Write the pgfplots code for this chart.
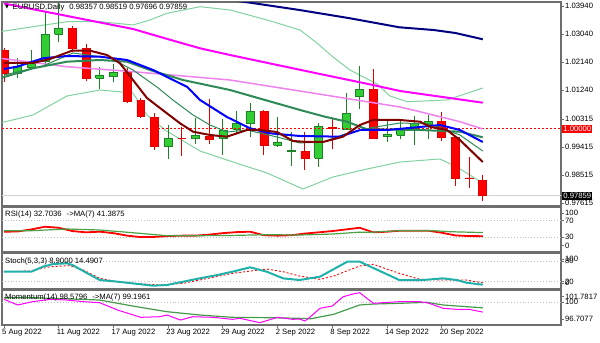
\documentclass[border=0pt]{standalone}
\usepackage{fontspec}
\setmainfont{Liberation Sans}
\newfontfamily\dejavu{DejaVu Sans}
\usepackage{pgfplots}
\pgfplotsset{compat=1.18}
\definecolor{bullfill}{RGB}{50,205,50}
\definecolor{bulledge}{RGB}{30,130,40}
\definecolor{bearfill}{RGB}{255,0,0}
\definecolor{bearedge}{RGB}{225,0,0}
\definecolor{mtnavy}{RGB}{0,0,128}
\definecolor{mtmag}{RGB}{255,0,255}
\definecolor{mtpink}{RGB}{238,130,238}
\definecolor{mtblue}{RGB}{0,0,255}
\definecolor{mtbrown}{RGB}{128,0,0}
\definecolor{mtgreen}{RGB}{46,139,87}
\definecolor{mtbb}{RGB}{130,210,160}
\definecolor{mtteal}{RGB}{32,178,170}
\definecolor{mtframe}{RGB}{110,110,110}
\definecolor{mtdot}{RGB}{190,190,190}
\newcommand\lbl{\fontsize{7.7bp}{9bp}\selectfont}
% candle: index, open, high, low, close, kind (bull/bear)
\newcommand\candle[6]{%
  \pgfmathsetmacro\xl{#1-0.29}\pgfmathsetmacro\xr{#1+0.29}%
  \edef\doit{\noexpand\addplot[draw=#6edge, line width=0.9bp] coordinates {(#1,#4)(#1,#3)};%
    \noexpand\addplot[draw=#6edge, fill=#6fill, line width=0.6bp] coordinates {(\xl,#2)(\xr,#2)(\xr,#5)(\xl,#5)(\xl,#2)};}%
  \doit}
\newcommand\bull[5]{\candle{#1}{#2}{#3}{#4}{#5}{bull}}
\newcommand\bear[5]{\candle{#1}{#2}{#3}{#4}{#5}{bear}}
\pgfplotsset{mt/.style={scale only axis, width=559bp, xmin=-0.146, xmax=40.72, anchor=north west,
  axis line style={draw=mtframe, line width=1.2bp}, xtick=\empty, ytick pos=right, yticklabel pos=right,
  tick align=outside, major tick length=3bp, major tick style={draw=mtframe, line width=0.8bp},
  yticklabel style={font=\lbl, anchor=west, inner sep=0.5bp, xshift=0.5bp}, clip mode=individual}}
\begin{document}
\begin{tikzpicture}
\useasboundingbox (0,0) rectangle (600bp,-343bp);
% ---------------- main price window
\begin{axis}[mt, at={(2bp,-2bp)}, height=204bp, ymin=0.97528, ymax=1.04068,
  ytick={0.97615,0.98515,0.99415,1.00315,1.01240,1.02140,1.03040,1.03940},
  yticklabels={0.97615,0.98515,0.99415,1.00315,1.01240,1.02140,1.03040,1.03940}]
% Bollinger bands
\addplot[mtbb, line width=1bp] coordinates {(-0.29,1.031161)(2.12,1.032764)(4.6,1.034367)(7.02,1.034367)(9.43,1.033309)(10.67,1.034912)(11.92,1.037060)(14.33,1.039176)(16.52,1.038118)(19.23,1.034912)(21.64,1.031706)(22.88,1.027538)(24.05,1.023050)(25.29,1.018882)(27.27,1.014394)(28.22,1.010546)(29.46,1.008719)(32.38,1.009264)(35,1.013111)};
\addplot[mtbb, line width=1bp] coordinates {(-0.29,1.001886)(2.12,1.004455)(4.6,1.010546)(7.02,1.012470)(9.43,1.011508)(10.45,1.004455)(11.77,0.999646)(14.33,0.992913)(16.74,0.989387)(19.23,0.985860)(21.86,0.980731)(24.05,0.984578)(26.54,0.987143)(28.95,0.989387)(31.87,0.990349)(33.11,0.987784)(35,0.982654)};
% price line
\addplot[gray!35, line width=1.5bp] coordinates {(-1,0.97859)(41,0.97859)};
% candles: index, open, high, low, close
\bear{0}{1.02529}{1.02594}{1.01504}{1.01792}
\bull{1}{1.01782}{1.02273}{1.01632}{1.01994}
\bull{2}{1.01962}{1.02529}{1.01888}{1.02154}
\bull{3}{1.02177}{1.03780}{1.02049}{1.03033}
\bull{4}{1.03033}{1.04036}{1.02796}{1.03225}
\bear{5}{1.03225}{1.03308}{1.02456}{1.02584}
\bear{6}{1.02584}{1.02712}{1.01545}{1.01622}
\bull{7}{1.01622}{1.01994}{1.01279}{1.01728}
\bull{8}{1.01686}{1.02071}{1.01494}{1.01815}
\bear{9}{1.01815}{1.01943}{1.00821}{1.00894}
\bear{10}{1.00926}{1.00981}{1.00359}{1.00413}
\bear{11}{1.00381}{1.00510}{0.99323}{0.99452}
\bull{12}{0.99452}{1.00125}{0.99035}{0.99699}
\bear{13}{0.99708}{1.00070}{0.99115}{0.99689}
\bull{14}{0.99686}{1.00359}{0.99516}{0.99782}
\bear{15}{0.99750}{1.00949}{0.99516}{0.99667}
\bull{16}{0.99699}{1.00308}{0.99163}{0.99965}
\bull{17}{0.99987}{1.00583}{0.99859}{1.00179}
\bull{18}{1.00179}{1.00840}{0.99750}{1.00551}
\bear{19}{1.00551}{1.00606}{0.99163}{0.99484}
\bull{20}{0.99474}{1.00372}{0.99429}{0.99580}
\bull{21}{0.99282}{0.99910}{0.98810}{0.99301}
\bear{22}{0.99291}{0.99910}{0.98682}{0.99057}
\bull{23}{0.99057}{1.00179}{0.98788}{1.00083}
\bear{24}{1.00048}{1.00340}{0.99346}{1.00029}
\bull{25}{0.99987}{1.01161}{0.99965}{1.00500}
\bull{26}{1.01032}{1.02016}{1.00628}{1.01270}
\bear{27}{1.01270}{1.01911}{0.99667}{0.99699}
\bull{28}{0.99750}{1.00285}{0.99590}{0.99836}
\bull{29}{0.99804}{1.00263}{0.99667}{1.00019}
\bull{30}{1.00019}{1.00413}{0.99484}{1.00179}
\bull{31}{1.00157}{1.00436}{0.99667}{1.00244}
\bear{32}{1.00253}{1.00551}{0.99622}{0.99731}
\bear{33}{0.99731}{0.99760}{0.98169}{0.98416}
\bear{34}{0.98426}{0.99089}{0.98096}{0.98406}
\bear{35}{0.98357}{0.98519}{0.97696}{0.97859}
\addplot[red, dash pattern=on 2bp off 2bp, line width=0.9bp] coordinates {(-1,1.0)(41,1.0)};
% moving averages
\addplot[mtpink, line width=1.5bp] coordinates {(-0.29,1.022633)(4.6,1.019940)(9.43,1.018337)(16.52,1.015676)(23.46,1.010867)(28.95,1.007020)(30.4,1.005513)(33.33,1.002307)(35,0.999967)};
\addplot[mtmag, line width=2bp] coordinates {(0,1.040202)(9.43,1.032027)(11.77,1.029045)(14.33,1.025839)(16.52,1.023691)(23.1,1.017600)(26.97,1.014073)(28.95,1.012149)(35,1.008399)};
\addplot[mtnavy, line width=2bp] coordinates {(16,1.04165)(18,1.040458)(21.6,1.038118)(25.3,1.035457)(28.9,1.032572)(31.4,1.031706)(33,1.030744)(35,1.028724)};
\addplot[mtgreen, line width=2bp] coordinates {(-0.29,1.016225)(2.12,1.019431)(4.6,1.021543)(7.02,1.022088)(9.0,1.021543)(10.67,1.018882)(13.08,1.015676)(16.52,1.012470)(21.64,1.006058)(23.46,1.003910)(25.07,1.002307)(26.54,0.999870)(30.41,0.999646)(33.33,0.999101)(35,0.997305)};
\addplot[mtgreen, line width=1bp] coordinates {(0,1.017274)(2.85,1.020164)(5.04,1.024332)(7.75,1.022729)(9.43,1.018882)(11.18,1.013432)(12.35,1.009264)(13.82,1.004455)(15.06,1.001249)(16.3,0.999005)(17.76,0.999646)(19.96,0.997402)(21.64,0.995478)(23.32,0.995799)(24.93,0.998364)(26.75,1.000288)(28.95,1.001891)(31.14,1.001570)(33.33,0.998043)(35,0.992913)};
\addplot[mtblue, line width=2bp] coordinates {(0,1.019203)(0.95,1.019940)(2.85,1.022633)(4.6,1.023370)(7.02,1.023146)(9.0,1.022088)(10.9,1.018882)(13.4,1.013432)(14.33,1.009264)(16.3,1.003814)(17.98,1.000191)(19.44,0.998588)(21.64,0.997722)(24.56,0.997498)(26.02,0.999646)(28,0.999646)(30.41,1.000608)(31.87,1.001249)(33.33,0.999646)(35,0.995799)};
\addplot[mtbrown, line width=2bp] coordinates {(0,1.021126)(2.12,1.021126)(3.36,1.022409)(4.97,1.025070)(6.29,1.025070)(7.53,1.023691)(8.48,1.021030)(9.43,1.015676)(10.45,1.009906)(11.4,1.006699)(12.87,1.001794)(13.82,0.999101)(15.06,0.998043)(16.3,0.997498)(17.76,0.999646)(18.71,0.999646)(19.96,0.999005)(21.13,0.996119)(22.15,0.995799)(23.32,0.995799)(24.78,0.997498)(26.02,1.001249)(26.97,1.002852)(28.95,1.002852)(30.41,1.002307)(31.14,1.000704)(32.38,0.999646)(33.33,0.996440)(35,0.989387)};
% labels
\node[anchor=west, font=\lbl, inner sep=0pt] at (rel axis cs:0,1) [xshift=10.5bp, yshift=-5.3bp] {EURUSD,Daily\hspace{5bp}0.98357 0.98519 0.97696 0.97859};
\node[anchor=west, inner sep=0pt] at (rel axis cs:0,1) [xshift=3bp, yshift=-5bp] {\dejavu\fontsize{5bp}{5bp}\selectfont ▼};
\node[fill=red, text=white, font=\lbl, inner sep=1.2bp, anchor=west] at (rel axis cs:1,0.3767) [xshift=1bp] {1.00000};
\node[fill=black, text=white, font=\lbl, inner sep=1.2bp, anchor=west] at (rel axis cs:1,0.0506) [xshift=1bp] {0.97859};
\end{axis}
% ---------------- RSI
\begin{axis}[mt, at={(2bp,-207bp)}, height=45bp, ymin=-5.4, ymax=103,
  ytick={9.8,30,70,87.8}, yticklabels={0,30,70,100}]
\addplot[mtdot, dotted, line width=0.9bp] coordinates {(-1,70)(41,70)};
\addplot[mtdot, dotted, line width=0.9bp] coordinates {(-1,30)(41,30)};
\addplot[red, line width=1.8bp] coordinates {(0,43.5)(1,44)(2,49)(3,55.5)(4,53)(5,45)(6,42)(7,43.5)(8,40)(9,34)(10,30.5)(11,31)(12,33)(13,34)(14,34)(15,36.5)(16,40)(17,42.5)(18,43.5)(19,35)(20,34)(21,35)(22,39)(23,42)(24,45)(25,49)(26,53)(27,42)(28,43.5)(29,46)(30,46)(31,46)(32,41)(33,34.5)(34,33)(35,32.7036)};
\addplot[mtgreen!80!lime, line width=1.2bp] coordinates {(0,45.9)(2,45.9)(4.6,50)(7,47.6)(9.4,41.1)(11.9,33.9)(14.3,33.9)(16.7,34.5)(19.2,36.3)(21.6,35.5)(24.1,38)(25.8,42)(26.75,42)(28.9,45.9)(31.4,45.9)(32.6,43.5)(35,41.3875)};
\node[anchor=west, font=\lbl, inner sep=0pt] at (rel axis cs:0,1) [xshift=3bp, yshift=-8bp] {RSI(14) 32.7036\hspace{5bp}->MA(7) 41.3875};
\end{axis}
% ---------------- Stochastic
\begin{axis}[mt, at={(2bp,-253.3bp)}, height=35bp, ymin=-1.8, ymax=103,
  ytick={14,18,85,80}, yticklabels={0,20,100,80}]
\addplot[mtdot, dotted, line width=0.9bp] coordinates {(-1,80)(41,80)};
\addplot[mtdot, dotted, line width=0.9bp] coordinates {(-1,20)(41,20)};
\addplot[red, dash pattern=on 2bp off 2bp, line width=0.9bp] coordinates {(0,48)(1.9,50)(3.4,63)(4.8,66)(5.8,53)(7,28)(8.3,18)(9.4,13)(11.4,8)(13.1,13)(14.3,23)(16.7,43)(19.2,56)(20.4,48)(21.6,35)(23.1,25)(24.1,35)(26,65)(27,70)(28.9,43)(30.4,25)(32.1,23)(33.8,23)(35,14.4907)};
\addplot[mtteal, line width=2bp] coordinates {(0,48)(1,48)(2,48)(2.85,63)(3.6,71)(4.6,73)(5,68)(6.1,43)(7,23)(8.3,18)(9.4,13)(10.9,6)(11.9,8)(13.1,18)(14.3,28)(15.6,38)(16.7,48)(18,61)(19.2,48)(20.4,28)(21.6,23)(23.1,33)(25.1,78)(26,78)(28.9,23)(30.6,23)(32.1,28)(33.1,23)(33.8,15)(35,8.9)};
\node[anchor=west, font=\lbl, inner sep=0pt] at (rel axis cs:0,1) [xshift=3bp, yshift=-8bp] {Stoch(5,3,3) 8.9000 14.4907};
\end{axis}
% ---------------- Momentum
\begin{axis}[mt, at={(2bp,-290bp)}, height=35bp, ymin=96.7077, ymax=101.7817,
  ytick={97.58,100,100.81}, yticklabels={96.7077,100,101.7817},
  xtick={0,4,8,12,16,20,24,28,32}, xtick pos=lower, xticklabel pos=lower,
  xticklabels={5 Aug 2022,11 Aug 2022,17 Aug 2022,23 Aug 2022,29 Aug 2022,2 Sep 2022,8 Sep 2022,14 Sep 2022,20 Sep 2022},
  xticklabel style={font=\lbl, anchor=north west, inner sep=0.5bp, xshift=-2.5bp}]
\addplot[mtdot, dotted, line width=0.9bp] coordinates {(-1,100)(41,100)};
\addplot[mtgreen!85!lime, line width=1.2bp] coordinates {(0,100.67)(2.1,100.67)(7,100.33)(9.4,99.46)(11.9,98.64)(14.3,98.16)(16.7,97.82)(19.2,97.77)(21.6,97.68)(22.4,97.6)(24.1,98.26)(26,99.61)(27,99.75)(28.9,99.85)(30.9,100.0)(32.1,99.61)(35,99.1961)};
\addplot[mtmag, line width=1bp] coordinates {(0,100.43)(1,99.61)(2.1,100.09)(3.4,100.43)(4.6,100.33)(5.8,100.09)(7,99.94)(8.3,98.88)(10,97.82)(11.4,97.91)(11.9,98.16)(12.9,97.43)(13.8,97.91)(15.3,97.82)(16.7,97.53)(17.25,97.68)(18.7,97.04)(20,97.82)(21.1,97.53)(21.6,97.58)(22,97.29)(22.4,97.91)(23.1,99.13)(24,99.46)(24.8,100.81)(25.5,101.2)(26,101.39)(27,99.85)(28.9,100.09)(30.4,100.09)(31.1,99.85)(32.1,99.13)(33.1,98.98)(34,98.98)(35,98.5796)};
\node[anchor=west, font=\lbl, inner sep=0pt] at (rel axis cs:0,1) [xshift=3bp, yshift=-8bp] {Momentum(14) 98.5796\hspace{5bp}->MA(7) 99.1961};
\end{axis}
\end{tikzpicture}
\end{document}
